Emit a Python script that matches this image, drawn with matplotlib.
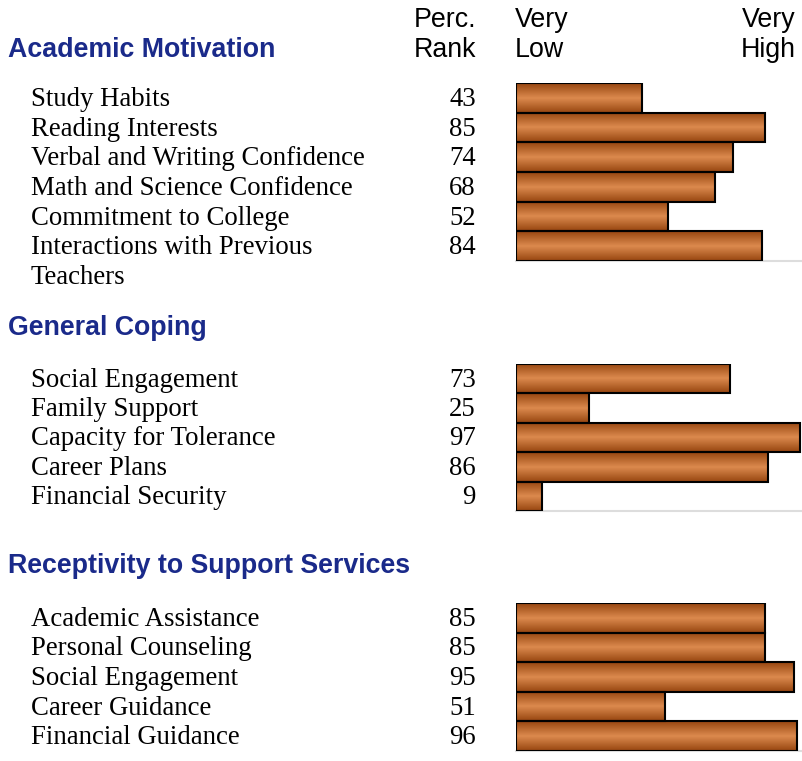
import numpy as np
import matplotlib
matplotlib.use("Agg")
import matplotlib.pyplot as plt
from matplotlib.colors import LinearSegmentedColormap
from matplotlib.transforms import blended_transform_factory

# data
groups = ["Academic Motivation", "General Coping", "Receptivity to Support Services"]
labels1 = ["Study Habits", "Reading Interests", "Verbal and Writing Confidence",
           "Math and Science Confidence", "Commitment to College",
           "Interactions with Previous\nTeachers"]
ranks1 = [43, 85, 74, 68, 52, 84]
labels2 = ["Social Engagement", "Family Support", "Capacity for Tolerance",
           "Career Plans", "Financial Security"]
ranks2 = [73, 25, 97, 86, 9]
labels3 = ["Academic Assistance", "Personal Counseling", "Social Engagement",
           "Career Guidance", "Financial Guidance"]
ranks3 = [85, 85, 95, 51, 96]

W, H = 803, 761
fig = plt.figure(figsize=(W / 100, H / 100), dpi=100)

blue = "#1a2a8a"
cmap = LinearSegmentedColormap.from_list("copper_bar", ["#974610", "#dc8a4e", "#974610"])
grad = np.linspace(0, 1, 64).reshape(-1, 1)

serif = ["Liberation Serif", "DejaVu Serif"]
sans = ["Liberation Sans", "DejaVu Sans"]
fs = 19.3

# pixel layout: (heading baseline y, bar top, bar bottom)
layout = [(57, 83, 261), (335, 364, 511), (573, 603, 751)]
x0, x1 = 516, 803
xmax = (x1 - x0) / 2.93


def fx(px):
    return px / W


def fy(py):
    return 1 - py / H


# column headers
hdr = dict(va="baseline", fontsize=fs, family=sans)
fig.text(fx(476), fy(27), "Perc.", ha="right", **hdr)
fig.text(fx(476), fy(57), "Rank", ha="right", **hdr)
fig.text(fx(515), fy(27), "Very", ha="left", **hdr)
fig.text(fx(515), fy(57), "Low", ha="left", **hdr)
fig.text(fx(796), fy(27), "Very", ha="right", **hdr)
fig.text(fx(796), fy(57), "High", ha="right", **hdr)

for title, labels, ranks, (hy, top, bot) in zip(groups, [labels1, labels2, labels3],
                                               [ranks1, ranks2, ranks3], layout):
    fig.text(fx(8), fy(hy), title, ha="left", va="baseline", fontsize=fs,
             fontweight="bold", color=blue, family=sans)
    ax = fig.add_axes([fx(x0), fy(bot), (x1 - x0) / W, (bot - top) / H])
    n = len(ranks)
    ax.set_axis_off()
    ax.axhline(n - 0.5, color="#dddddd", lw=1.5, zorder=0, clip_on=False)
    bars = ax.barh(range(n), ranks, height=1.0, color="none", edgecolor="black",
                   lw=1.5, zorder=3)
    for b, r in zip(bars, ranks):
        y = b.get_y()
        im = ax.imshow(grad, extent=[0, r, y + 1, y], aspect="auto", cmap=cmap,
                       zorder=2, interpolation="bilinear")
        im.set_clip_path(b)
    ax.set_xlim(0, xmax)
    ax.set_ylim(n - 0.5, -0.5)
    tr = blended_transform_factory(fig.transFigure, ax.transData)
    off = 0.27
    for i, (lab, r) in enumerate(zip(labels, ranks)):
        for k, line in enumerate(lab.split("\n")):
            ax.text(fx(31), i + k + off, line, transform=tr, ha="left", va="baseline",
                    fontsize=fs, family=serif, clip_on=False)
        ax.text(fx(476), i + off, str(r), transform=tr, ha="right", va="baseline",
                fontsize=fs, family=serif, clip_on=False)

fig.savefig("out.png", dpi=100)
